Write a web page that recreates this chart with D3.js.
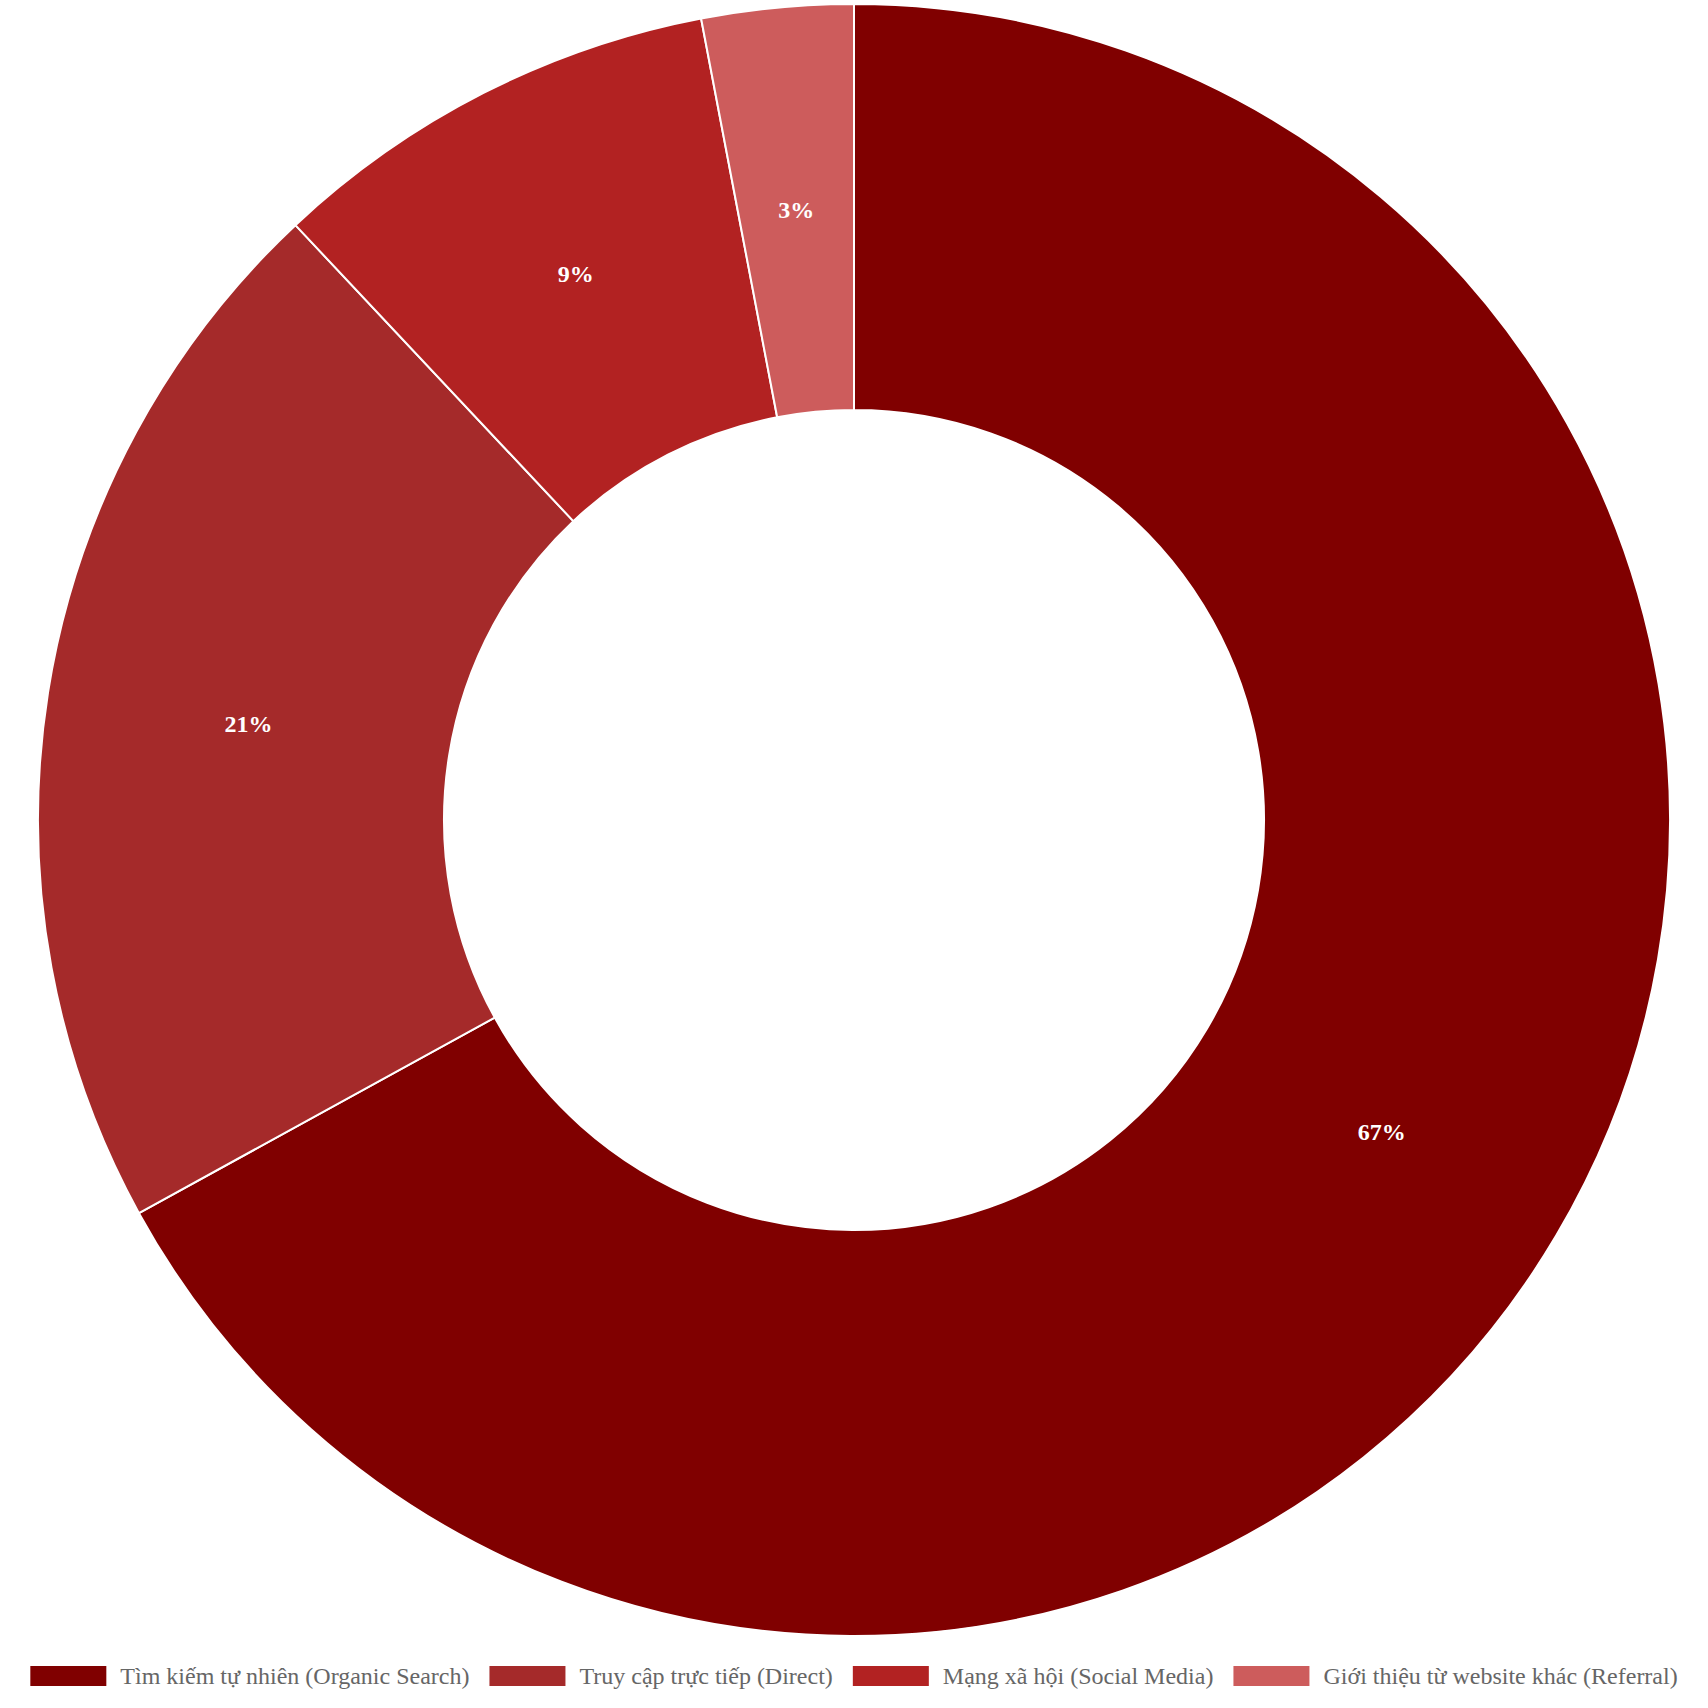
<!DOCTYPE html>
<html lang="vi">
<head>
<meta charset="utf-8">
<title>Nguồn truy cập website</title>
<script src="https://d3js.org/d3.v7.min.js"></script>
<style>
  html, body { margin: 0; padding: 0; background: #fff; }
</style>
</head>
<body>
<div id="chart"></div>
<script>
// data
var labels = ["Tìm kiếm tự nhiên (Organic Search)", "Truy cập trực tiếp (Direct)", "Mạng xã hội (Social Media)", "Giới thiệu từ website khác (Referral)"];
var values = [67, 21, 9, 3];
var colors = ["#800000", "#A52A2A", "#B22222", "#CD5C5C"];

var W = 1708, H = 1708;
var cx = 854, cy = 820, outerR = 816, innerR = 410;

var svg = d3.select("#chart")
  .append("svg")
  .attr("width", W)
  .attr("height", H);

var data = labels.map(function(l, i) { return {label: l, value: values[i], color: colors[i]}; });
var total = d3.sum(values);

var pie = d3.pie()
  .sort(null)
  .value(function(d) { return d.value; });

var arc = d3.arc()
  .innerRadius(innerR)
  .outerRadius(outerR);

var g = svg.append("g")
  .attr("transform", "translate(" + cx + "," + cy + ")");

var arcs = pie(data);

g.selectAll("path.slice")
  .data(arcs)
  .enter()
  .append("path")
    .attr("class", "slice")
    .attr("d", arc)
    .attr("fill", function(d) { return d.data.color; })
    .attr("stroke", "#fff")
    .attr("stroke-width", 2);

// percentage labels in the middle of each slice
g.selectAll("text.pct")
  .data(arcs)
  .enter()
  .append("text")
    .attr("class", "pct")
    .attr("transform", function(d) { return "translate(" + arc.centroid(d) + ")"; })
    .attr("text-anchor", "middle")
    .attr("dominant-baseline", "central")
    .style("font-family", "'Liberation Serif', 'Times New Roman', serif")
    .style("font-weight", "bold")
    .style("font-size", "24px")
    .style("fill", "#fff")
    .text(function(d) { return Math.round(d.data.value / total * 100) + "%"; });

// legend along the bottom, centered
var boxW = 76, boxH = 20, boxGap = 14, itemGap = 20;
var legendY = 1666;
var legend = svg.append("g");

var items = legend.selectAll("g.item")
  .data(data)
  .enter()
  .append("g")
    .attr("class", "item");

items.append("rect")
  .attr("width", boxW)
  .attr("height", boxH)
  .attr("y", legendY)
  .attr("fill", function(d) { return d.color; });

items.append("text")
  .attr("y", legendY + boxH / 2)
  .attr("dominant-baseline", "central")
  .style("font-family", "'Liberation Serif', 'Times New Roman', serif")
  .style("font-size", "24px")
  .style("fill", "#666")
  .text(function(d) { return d.label; });

var widths = [];
items.each(function() {
  widths.push(boxW + boxGap + d3.select(this).select("text").node().getComputedTextLength());
});
var totalW = d3.sum(widths) + itemGap * (widths.length - 1);
var x0 = (W - totalW) / 2;
items.each(function(d, i) {
  var item = d3.select(this);
  item.select("rect").attr("x", x0);
  item.select("text").attr("x", x0 + boxW + boxGap);
  x0 += widths[i] + itemGap;
});
</script>
</body>
</html>
